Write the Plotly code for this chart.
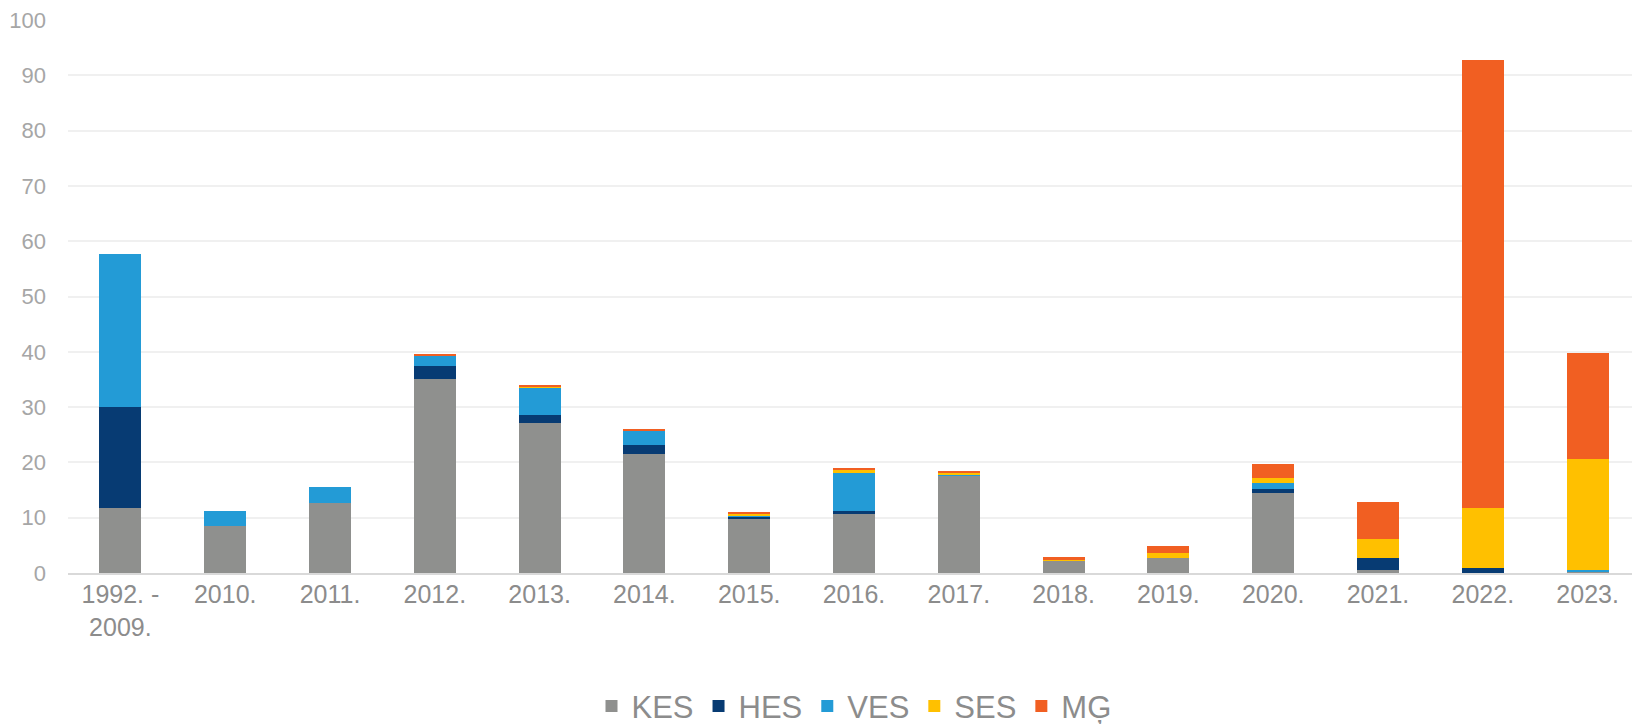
import plotly.graph_objects as go

categories = ["1992. -<br>2009.", "2010.", "2011.", "2012.", "2013.", "2014.", "2015.", "2016.",
              "2017.", "2018.", "2019.", "2020.", "2021.", "2022.", "2023."]
KES = [11.7, 8.5, 12.7, 35.1, 27.1, 21.5, 9.8, 10.7, 17.6, 2.2, 2.7, 14.4, 0.5, 0.0, 0.35]
HES = [18.4, 0.0, 0.0, 2.4, 1.5, 1.6, 0.25, 0.45, 0.0, 0.0, 0.0, 0.8, 2.3, 0.9, 0.0]
VES = [27.6, 2.8, 2.8, 1.8, 4.9, 2.6, 0.4, 6.85, 0.15, 0.0, 0.0, 1.05, 0.0, 0.0, 0.15]
SES = [0.0, 0.0, 0.0, 0.1, 0.2, 0.1, 0.3, 0.7, 0.35, 0.15, 0.9, 0.85, 3.3, 10.85, 20.2]
MG = [0.0, 0.0, 0.0, 0.2, 0.2, 0.3, 0.3, 0.3, 0.3, 0.5, 1.2, 2.6, 6.75, 80.95, 19.0]

series = [("KES", KES, "#8f908e"), ("HES", HES, "#073b73"), ("VES", VES, "#239bd6"),
          ("SES", SES, "#ffc000"), ("MG", MG, "#f15f22")]
names = {"MG": "MĢ"}

fig = go.Figure()
for key, vals, col in series:
    fig.add_trace(go.Bar(x=categories, y=vals, name=names.get(key, key),
                         marker=dict(color=col, line=dict(width=0))))

font_main = "Liberation Sans, Arial, sans-serif"
# page has an 8px body margin, so the figure is 8px smaller and shifted
fig.update_layout(
    barmode="stack",
    bargap=0.6,
    width=1632, height=716,
    margin=dict(l=60, r=0, t=12, b=151, autoexpand=False),
    plot_bgcolor="white", paper_bgcolor="white",
    font=dict(family=font_main, color="#8c8c8c"),
    legend=dict(orientation="h", x=0.5, xanchor="center", y=-0.241, yanchor="middle",
                font=dict(size=31, color="#8c8c8c"), itemsizing="constant",
                traceorder="normal", itemwidth=30, tracegroupgap=0),
    showlegend=True,
)
fig.update_yaxes(range=[0, 100], dtick=10, showgrid=True, gridcolor="#f0f0f0", gridwidth=1.5,
                 zeroline=False, showline=False, automargin=False,
                 tickfont=dict(size=22, color="#a6a6a6"), ticklabeloverflow="allow",
                 ticklabelstandoff=21)
fig.update_xaxes(showline=True, linecolor="#d9d9d9", linewidth=2, showgrid=False, automargin=False,
                 tickfont=dict(size=25, color="#8c8c8c"), ticklabelstandoff=-2,
                 ticklabeloverflow="allow")

fig.write_html("out.html")
